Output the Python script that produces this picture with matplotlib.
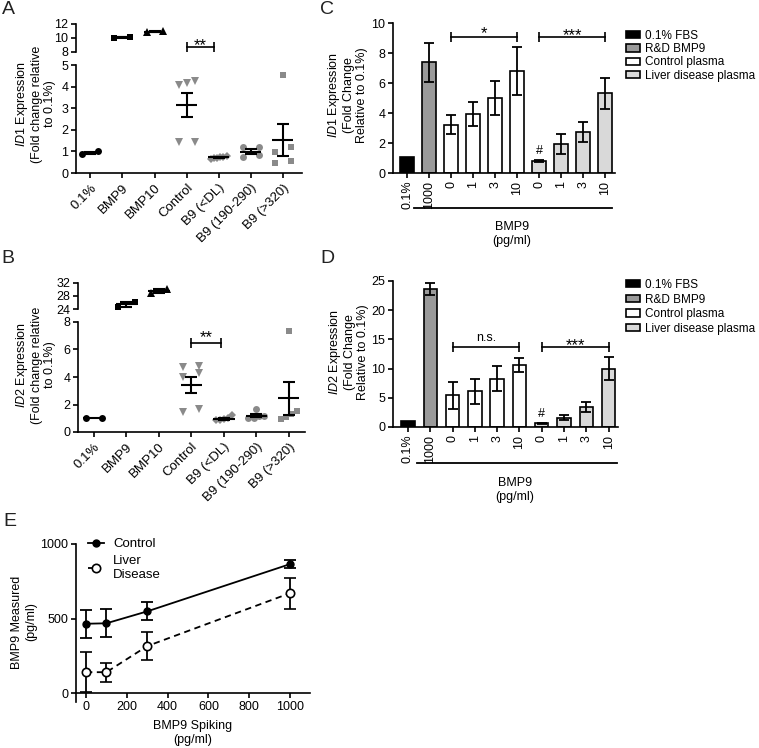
import numpy as np
import matplotlib
matplotlib.use("Agg")
import matplotlib.pyplot as plt
from matplotlib.patches import Patch
from matplotlib.lines import Line2D

plt.rcParams['font.family'] = ['Liberation Sans', 'DejaVu Sans']
plt.rcParams['mathtext.fontset'] = 'custom'
plt.rcParams['mathtext.rm'] = 'Liberation Sans'
plt.rcParams['mathtext.it'] = 'Liberation Sans:italic'
plt.rcParams['font.size'] = 9
plt.rcParams['axes.linewidth'] = 1.2
plt.rcParams['xtick.major.width'] = 1.2
plt.rcParams['ytick.major.width'] = 1.2
plt.rcParams['xtick.major.size'] = 3.5
plt.rcParams['ytick.major.size'] = 3.5
plt.rcParams['xtick.major.pad'] = 2
plt.rcParams['ytick.major.pad'] = 2

# ---- data ----
groups = ["0.1%", "BMP9", "BMP10", "Control", "B9 (<DL)", "B9 (190-290)", "B9 (>320)"]

id1_points = [
    [0.88, 1.0],
    [9.96, 10.2],
    [10.9, 10.95],
    [4.15, 4.07, 4.25, 1.45, 1.45],
    [0.78, 0.74, 0.70, 0.68, 0.66, 0.72],
    [1.22, 1.19, 0.83, 0.73],
    [4.55, 1.2, 0.98, 0.56, 0.48],
]
id1_mean = [0.94, 10.08, 10.92, 3.13, 0.72, 0.99, 1.53]
id1_sem = [0.04, 0.08, 0.03, 0.56, 0.03, 0.1, 0.75]

id2_points = [
    [1.0, 1.0],
    [24.6, 26.2],
    [28.9, 30.1],
    [4.75, 4.8, 4.02, 4.31, 1.48, 1.67],
    [0.92, 0.9, 0.88, 1.0, 1.24],
    [1.67, 1.2, 1.16, 1.0, 1.0],
    [7.37, 1.5, 1.3, 1.1, 0.95],
]
id2_mean = [1.0, 25.4, 29.5, 3.42, 0.95, 1.2, 2.45]
id2_sem = [0.0, 0.8, 0.6, 0.58, 0.07, 0.12, 1.2]

bar_labels = ["0.1%", "1000", "0", "1", "3", "10", "0", "1", "3", "10"]
bar_group = [0, 1, 2, 2, 2, 2, 3, 3, 3, 3]
legend_labels = ["0.1% FBS", "R&D BMP9", "Control plasma", "Liver disease plasma"]
id1_bar = [1.05, 7.38, 3.23, 3.91, 5.02, 6.82, 0.82, 1.93, 2.73, 5.31]
id1_bar_err = [0, 1.28, 0.64, 0.8, 1.14, 1.6, 0.08, 0.67, 0.69, 1.03]
id2_bar = [1.0, 23.6, 5.4, 6.1, 8.3, 10.6, 0.65, 1.6, 3.4, 10.0]
id2_bar_err = [0, 1.05, 2.3, 2.2, 2.1, 1.15, 0.12, 0.45, 0.8, 1.95]

spike = [0, 100, 300, 1000]
ctrl_measured = [465, 468, 548, 865]
ctrl_err = [95, 95, 60, 25]
liver_measured = [140, 140, 315, 670]
liver_err = [135, 65, 95, 105]

# ---- figure in pixel layout ----
W, H = 759, 748
fig = plt.figure(figsize=(W / 100, H / 100), dpi=100)


def px_axes(left, top, right, bottom):
    return fig.add_axes([left / W, 1 - bottom / H, (right - left) / W, (bottom - top) / H])


def ftext(x, y, s, **kw):
    return fig.text(x / W, 1 - y / H, s, **kw)


def swarm(ax, x0, vals, gap=5.5, half=0.25):
    # points closer than a marker in y are set side by side
    vals = np.asarray(vals, float)
    ypx = ax.transData.transform(np.column_stack([np.full(vals.size, x0), vals]))[:, 1]
    order = np.argsort(ypx)
    offs = np.zeros(vals.size)
    clusters = [[order[0]]]
    for a, b in zip(order[:-1], order[1:]):
        if ypx[b] - ypx[a] < gap:
            clusters[-1].append(b)
        else:
            clusters.append([b])
    for c in clusters:
        if len(c) > 1:
            offs[c] = np.linspace(-half, half, len(c))
    return offs


def bracket(ax, x1, x2, y, label, size=12, dy=-2):
    ax.plot([x1, x2], [y, y], color='k', lw=1.2, marker='|', ms=7, mew=1.2,
            clip_on=False, zorder=4)
    ax.annotate(label, (0.5 * (x1 + x2), y), xytext=(0, dy), textcoords='offset points',
                ha='center', va='baseline', fontsize=size, annotation_clip=False)


grey = '#8a8a8a'
markers = ['o', 's', '^', 'v', 'D', 'o', 's']
mcolors = ['black', 'black', 'black', grey, grey, grey, grey]
msizes = [5, 4.6, 5.2, 5.2, 3.8, 5, 4.6]


def scatter_panel(ax_top, ax_bot, points, means, sems, top_ticks, bot_ticks):
    for ax in (ax_top, ax_bot):
        for s in ('top', 'right'):
            ax.spines[s].set_visible(False)
    ax_top.spines['bottom'].set_visible(False)
    ax_top.set_xticks([])
    ax_top.set_yticks(top_ticks)
    ax_bot.set_yticks(bot_ticks)
    ax_top.patch.set_alpha(0)
    ax_bot.patch.set_alpha(0)
    for i, (vals, m, s) in enumerate(zip(points, means, sems)):
        ax = ax_top if i in (1, 2) else ax_bot
        offs = swarm(ax, i, vals)
        ax.plot(i + offs, vals, ls='none', marker=markers[i], color=mcolors[i],
                ms=msizes[i], mew=0, zorder=2, clip_on=False)
        ax.hlines(m, i - 0.33, i + 0.33, color='k', lw=1.5, zorder=3)
        if s > 0:
            ax.errorbar(i, m, yerr=s, fmt='none', ecolor='k', elinewidth=1.5,
                        capsize=4.2, capthick=1.5, zorder=3)
    ax_bot.set_xticks(range(len(groups)))
    ax_bot.set_xticklabels(groups, rotation=45, ha='right', va='top',
                           rotation_mode='anchor', fontsize=9.5)
    ax_bot.tick_params(axis='x', pad=3)


# Panel A
axA_top = px_axes(76, 24, 302, 52)
axA_bot = px_axes(76, 65, 302, 173)
for ax in (axA_top, axA_bot):
    ax.set_xlim(-0.45, 6.6)
axA_top.set_ylim(8, 12)
axA_bot.set_ylim(0, 5)
scatter_panel(axA_top, axA_bot, id1_points, id1_mean, id1_sem, [8, 10, 12], range(6))
bracket(axA_top, 3, 3.85, 8.7, "**", dy=-2.5)

# Panel B
axB_top = px_axes(78, 283, 305, 309)
axB_bot = px_axes(78, 322, 305, 432)
for ax in (axB_top, axB_bot):
    ax.set_xlim(-0.49, 6.5)
axB_top.set_ylim(24, 32)
axB_bot.set_ylim(0, 8)
scatter_panel(axB_top, axB_bot, id2_points, id2_mean, id2_sem, [24, 28, 32], [0, 2, 4, 6, 8])
bracket(axB_bot, 3, 3.9, 6.5, "**", dy=0)

ftext(35, 104, "$\\it{ID1}$ Expression\n(Fold change relative\nto 0.1%)", rotation=90,
      ha='center', va='center', multialignment='center', linespacing=1.12)
ftext(35, 365, "$\\it{ID2}$ Expression\n(Fold change relative\nto 0.1%)", rotation=90,
      ha='center', va='center', multialignment='center', linespacing=1.12)

# Panels C and D
bar_colors = ['black', '#9a9a9a', 'white', '#d9d9d9']


def bar_panel(ax, vals, errs, ymax, ystep):
    x = np.arange(len(vals))
    cols = [bar_colors[g] for g in bar_group]
    ax.bar(x, vals, width=0.6, color=cols, edgecolor='k', linewidth=1.2, zorder=2)
    errs = np.asarray(errs)
    keep = errs > 0
    ax.errorbar(x[keep], np.asarray(vals)[keep], yerr=errs[keep], fmt='none', ecolor='k',
                elinewidth=1.3, capsize=3.6, capthick=1.3, zorder=3)
    ax.set_ylim(0, ymax)
    ax.set_yticks(np.arange(0, ymax + 0.1, ystep))
    ax.set_xticks(x)
    ax.set_xticklabels(bar_labels, rotation=90)
    for s in ('top', 'right'):
        ax.spines[s].set_visible(False)
    ax.annotate("#", (6, vals[6] + errs[6]), xytext=(0, 2), textcoords='offset points',
                ha='center', va='bottom', fontsize=9)


axC = px_axes(393, 23, 615, 173)
axC.set_xlim(-0.64, 9.45)
bar_panel(axC, id1_bar, id1_bar_err, 10, 2)
bracket(axC, 2, 5, 9.1, "*", dy=-1)
bracket(axC, 6, 9, 9.1, "***", dy=-2.5)

axD = px_axes(393, 281, 618, 427)
axD.set_xlim(-0.67, 9.42)
bar_panel(axD, id2_bar, id2_bar_err, 25, 5)
bracket(axD, 2, 5, 13.7, "n.s.", size=9, dy=4)
bracket(axD, 6, 9, 13.7, "***", dy=-2)

ftext(347, 95, "$\\it{ID1}$ Expression\n(Fold Change\nRelative to 0.1%)", rotation=90,
      ha='center', va='center', multialignment='center', linespacing=1.1)
ftext(348, 352, "$\\it{ID2}$ Expression\n(Fold Change\nRelative to 0.1%)", rotation=90,
      ha='center', va='center', multialignment='center', linespacing=1.1)

fig.add_artist(Line2D([414 / W, 612 / W], [1 - 208 / H] * 2, color='k', lw=1.3))
fig.add_artist(Line2D([417 / W, 617 / W], [1 - 463 / H] * 2, color='k', lw=1.3))
ftext(512, 234, "BMP9\n(pg/ml)", ha='center', va='center', linespacing=1.2)
ftext(515, 490, "BMP9\n(pg/ml)", ha='center', va='center', linespacing=1.2)

handles = [Patch(facecolor=c, edgecolor='k', lw=1.2) for c in bar_colors]
for top, sp in ((30, 0.1), (279, 0.22)):
    fig.legend(handles, legend_labels, loc='upper left', bbox_to_anchor=(626 / W, 1 - top / H),
               frameon=False, fontsize=8.5, handlelength=1.15, handleheight=0.55,
               handletextpad=0.45, labelspacing=sp, borderpad=0, borderaxespad=0)

# Panel E
axE = px_axes(76, 544, 310, 702)
axE.set_xlim(-49, 1098)
axE.set_ylim(-60, 1000)
axE.errorbar(spike, ctrl_measured, yerr=ctrl_err, fmt='-o', color='k', ms=5, lw=1.3,
             elinewidth=1.3, capsize=4, capthick=1.3, clip_on=False, zorder=3)
axE.errorbar(spike, liver_measured, yerr=liver_err, fmt='--o', color='k', mfc='white', mew=1.2,
             ms=6, lw=1.3, dashes=(3.5, 2.5), elinewidth=1.3, capsize=4, capthick=1.3,
             clip_on=False, zorder=3)
axE.spines['bottom'].set_position(('data', 0))
for s in ('top', 'right'):
    axE.spines[s].set_visible(False)
axE.set_xticks(range(0, 1001, 200))
axE.set_yticks([0, 500, 1000])
e_handles = [Line2D([], [], color='k', lw=1.3, marker='o', ms=5),
             Line2D([], [], color='k', lw=1.3, ls='--', dashes=(2.5, 2), marker='o',
                    mfc='white', mew=1.2, ms=6)]
axE.legend(e_handles, ["Control", "Liver\nDisease"], loc='upper left',
           bbox_to_anchor=(88 / W, 1 - 538 / H), bbox_transform=fig.transFigure,
           frameon=False, fontsize=9.5, handlelength=1.2, handletextpad=0.7,
           labelspacing=0.35, borderpad=0, borderaxespad=0)
ftext(193, 733, "BMP9 Spiking\n(pg/ml)", ha='center', va='center', linespacing=1.2)
ftext(24, 622, "BMP9 Measured\n(pg/ml)", rotation=90, ha='center', va='center',
      multialignment='center', linespacing=1.2)

# panel letters
for lx, ly, letter in ((8, 10, "A"), (327, 10, "C"), (8, 258, "B"), (327, 258, "D"), (10, 521, "E")):
    ftext(lx, ly, letter, ha='center', va='center', fontsize=14, color='#222222')

fig.savefig("out.png", dpi=100)
